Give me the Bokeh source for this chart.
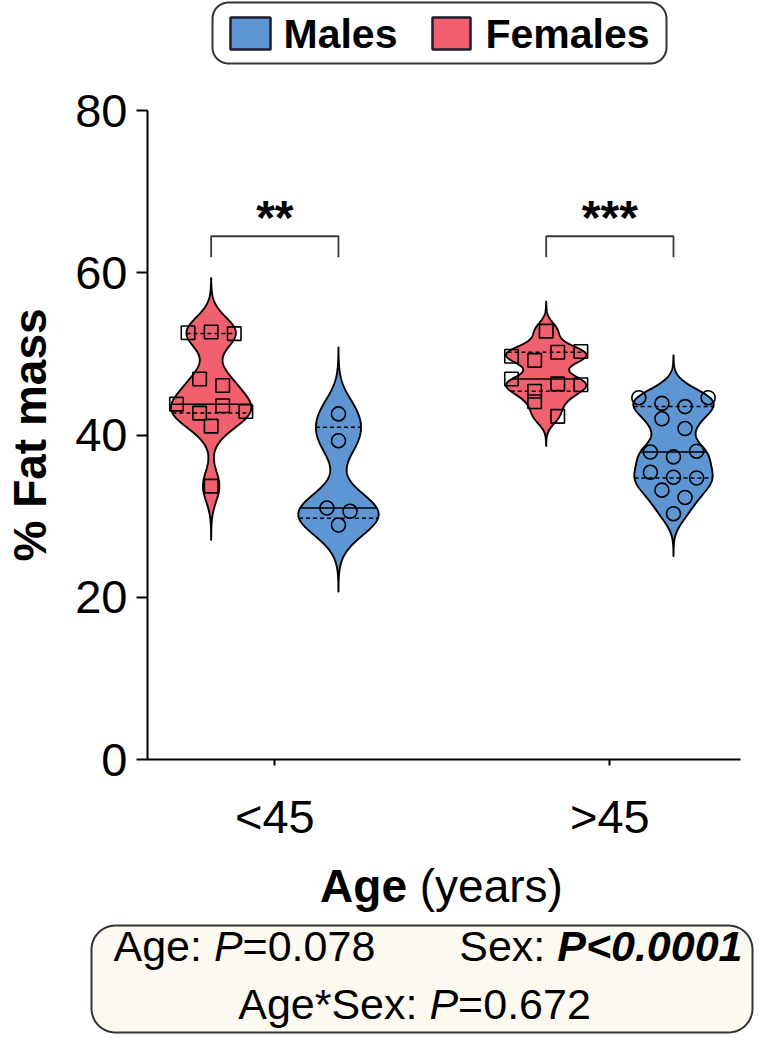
import numpy as np
from bokeh.plotting import figure
from bokeh.models import Range1d, FixedTicker
from bokeh.embed import file_html
from bokeh.resources import INLINE
from bokeh.core.properties import value

# ---------------- data ----------------
age_groups = ["<45", ">45"]
sex_labels = ["Males", "Females"]
female_lt45 = [52.6, 52.7, 52.5, 46.9, 46.1, 43.8, 42.7, 43.6, 42.9, 41.1, 33.7]
male_lt45 = [42.6, 39.3, 31.0, 30.6, 28.9]
female_gt45 = [52.8, 49.7, 49.2, 50.2, 50.3, 46.9, 45.4, 46.3, 46.2, 44.1, 42.3]
male_gt45 = [44.6, 43.9, 43.5, 44.6, 42.0, 40.8, 37.9, 37.3, 38.0, 35.4, 34.8, 34.7, 33.2, 32.3, 30.3]
y_ticks = [0, 20, 40, 60, 80]
significance = ["**", "***"]
p_age = "0.078"
p_sex = "<0.0001"
p_inter = "0.672"
bandwidths = {"fl": 1.9, "ml": 2.35, "fg": 1.05, "mg": 1.5}

# ---------------- style ----------------
FONT = "Liberation Sans"
BLUE = "#5E95D3"
RED = "#F0606E"
W, H = 766, 1040
FL, FR, FT, FB = 147, 740, 110, 759   # plot-area edges on the canvas (px)
X0, X1 = 0.62, 2.39                    # x data range of the plot area
Y0, Y1 = 0, 80
SEX_OFF = 0.19
HALF_W = 0.12
SWARM_DX = 0.069
ROW_TOL = 2.0
BASE_COMP = 0.3   # baseline compensation (em) observed for svg text

PXX = (FR - FL) / (X1 - X0)
PXY = (FB - FT) / (Y1 - Y0)


def dx(X):
    return X0 + (X - FL) / PXX


def dy(Y):
    return Y0 + (FB - Y) / PXY


REG = {' ': 278, '(': 333, ')': 333, '*': 389, '.': 278, ':': 278, '=': 584, '<': 584, '>': 584,
       'A': 667, 'P': 667, 'S': 667, 'a': 556, 'e': 556, 'g': 556, 'r': 333, 's': 500, 'x': 500,
       'y': 500, 'F': 611, 'M': 833, 'l': 222, 'm': 833, 't': 278, '%': 889}
BOLD = {' ': 278, 'A': 722, 'g': 611, 'e': 556, 'P': 667, '<': 584, '.': 278, 'M': 833, 'a': 556,
        'l': 278, 's': 556, 'F': 611, 'm': 889, '*': 389, '(': 333, ')': 333}


def tw(s, size, bold=False):
    t = BOLD if bold else REG
    return sum(t.get(c, 556) for c in s) * size / 1000.0


def draw_runs(fig, x, baseline, runs, size, align="left"):
    widths = [tw(t, size, "bold" in st) for t, st in runs]
    total = sum(widths)
    start = x if align == "left" else (x - total / 2 if align == "center" else x - total)
    ypos = baseline - BASE_COMP * size
    for (t, st), w in zip(runs, widths):
        lead = len(t) - len(t.lstrip(" "))
        xs = start + tw(" " * lead, size, "bold" in st)
        fig.text(x=[dx(xs)], y=[dy(ypos)], text=[t.strip(" ")], text_font=value(FONT),
                 text_font_size=f"{size}px", text_font_style=st, text_align="left",
                 text_baseline="alphabetic", text_color="black")
        start += w


def rounded_box(fig, x0, y0, x1, y1, r, fill, line, lw, n=14):
    xs, ys = [], []
    if r > 0:
        corners = [(x1 - r, y0 + r, -np.pi / 2, 0), (x1 - r, y1 - r, 0, np.pi / 2),
                   (x0 + r, y1 - r, np.pi / 2, np.pi), (x0 + r, y0 + r, np.pi, 1.5 * np.pi)]
        for cx, cy, a0, a1 in corners:
            a = np.linspace(a0, a1, n)
            xs += list(cx + r * np.cos(a))
            ys += list(cy + r * np.sin(a))
    else:
        xs, ys = [x0, x1, x1, x0], [y0, y0, y1, y1]
    fig.patch([dx(v) for v in xs], [dy(v) for v in ys], fill_color=fill, line_color=line,
              line_width=lw)


def swarm_offsets(vals):
    vals = np.asarray(vals)
    order = sorted(range(len(vals)), key=lambda i: -vals[i])
    rows, cur = [], []
    for i in order:
        if cur and vals[cur[0]] - vals[i] > ROW_TOL:
            rows.append(cur)
            cur = []
        cur.append(i)
    rows.append(cur)
    off = np.zeros(len(vals))
    for row in rows:
        row = sorted(row)
        n = len(row)
        for k, i in enumerate(row):
            off[i] = (k - (n - 1) / 2) * SWARM_DX
    return off


def violin(vals, bw):
    vals = np.asarray(vals)
    ys = np.linspace(vals.min() - 3.5 * bw, vals.max() + 3.5 * bw, 400)
    d = np.exp(-0.5 * ((ys[:, None] - vals[None, :]) / bw) ** 2).sum(axis=1)
    hw = d / d.max() * HALF_W
    return ys, hw


# ---------------- figure ----------------
p = figure(width=W, height=H, x_range=Range1d(dx(0), dx(W)), y_range=Range1d(dy(H), dy(0)),
           output_backend="svg", toolbar_location=None, min_border=0,
           min_border_left=0, min_border_right=0, min_border_top=0, min_border_bottom=0)
p.outline_line_color = None
p.grid.visible = False
p.background_fill_color = "white"
p.border_fill_color = "white"

groups = [(1 - SEX_OFF, female_lt45, RED, "square", bandwidths["fl"]),
          (1 + SEX_OFF, male_lt45, BLUE, "circle", bandwidths["ml"]),
          (2 - SEX_OFF, female_gt45, RED, "square", bandwidths["fg"]),
          (2 + SEX_OFF, male_gt45, BLUE, "circle", bandwidths["mg"])]

for cx, vals, col, mk, bw in groups:
    ys, hw = violin(vals, bw)
    px = list(cx + hw) + list(cx - hw[::-1])
    py = list(ys) + list(ys[::-1])
    p.patch(px, py, fill_color=col, line_color="black", line_width=1.9)
    q1, med, q3 = np.percentile(vals, [25, 50, 75], method="weibull")
    for yv, dash in [(q1, "4 3"), (med, "solid"), (q3, "4 3")]:
        h = np.interp(yv, ys, hw)
        p.line([cx - h, cx + h], [yv, yv], line_color="black", line_width=1.5, line_dash=dash)

for cx, vals, col, mk, bw in groups:
    off = swarm_offsets(vals)
    p.scatter(cx + off, vals, marker=mk, size=13.5 if mk == "square" else 14,
              fill_color=None, line_color="black", line_width=1.6)

BR_TOP, BR_LEG = 64.5, 61.9
for gi, sig in enumerate(significance):
    c = gi + 1
    p.line([c - SEX_OFF, c - SEX_OFF, c + SEX_OFF, c + SEX_OFF], [BR_LEG, BR_TOP, BR_TOP, BR_LEG],
           line_color="#3a3a3a", line_width=1.8)
    p.text(x=[c], y=[BR_TOP + 2.3], text=[sig], text_font=value(FONT), text_font_size="48px",
           text_font_style="bold", text_align="center", text_baseline="alphabetic",
           text_color="black")

# axes drawn at fixed data locations inside the canvas
p.xaxis.fixed_location = Y0
p.yaxis.fixed_location = X0
p.xaxis.bounds = (X0, X1)
p.yaxis.bounds = (Y0, Y1)
p.xaxis.ticker = FixedTicker(ticks=[1, 2])
p.xaxis.major_label_overrides = {1: age_groups[0], 2: age_groups[1]}
p.yaxis.ticker = FixedTicker(ticks=y_ticks)
for ax in (p.xaxis, p.yaxis):
    ax.axis_line_width = 2
    ax.axis_line_color = "black"
    ax.major_tick_line_width = 2
    ax.major_tick_line_color = "black"
    ax.major_tick_in = 0
    ax.minor_tick_line_color = None
    ax.major_label_text_font = FONT
    ax.major_label_text_color = "black"
p.xaxis.major_tick_out = 6
p.xaxis.major_label_text_font_size = "47px"
p.xaxis.major_label_standoff = 24
p.yaxis.major_tick_out = 11
p.yaxis.major_label_text_font_size = "47px"
p.yaxis.major_label_standoff = 9
p.yaxis.axis_label = "% Fat mass"
p.yaxis.axis_label_text_font = FONT
p.yaxis.axis_label_text_font_size = "46px"
p.yaxis.axis_label_text_font_style = "bold"
p.yaxis.axis_label_text_color = "black"
p.yaxis.axis_label_standoff = 16

# ---------------- legend ----------------
rounded_box(p, 212, 2, 666, 63, 16, "white", "#333333", 2)
rounded_box(p, 230, 17, 270, 49, 0, BLUE, "#1c1c2e", 2.5)
rounded_box(p, 432, 17, 470, 49, 0, RED, "#1c1c2e", 2.5)
draw_runs(p, 283, 46, [(sex_labels[0], "bold")], 41)
draw_runs(p, 485, 46, [(sex_labels[1], "bold")], 41)

# ---------------- x title and statistics box ----------------
draw_runs(p, 441, 899, [("Age", "bold"), (" (years)", "normal")], 46, align="center")
rounded_box(p, 91, 925, 752, 1032, 24, "#FCFAF0", "#333333", 2)
draw_runs(p, 113, 958, [("Age: ", "normal"), ("P", "italic"), ("=" + p_age, "normal")], 43)
draw_runs(p, 742, 958, [("Sex: ", "normal"), ("P" + p_sex, "bold italic")], 43, align="right")
draw_runs(p, 414, 1016, [("Age*Sex: ", "normal"), ("P", "italic"), ("=" + p_inter, "normal")], 43,
          align="center")

open("out.html", "w").write(file_html(p, INLINE))
